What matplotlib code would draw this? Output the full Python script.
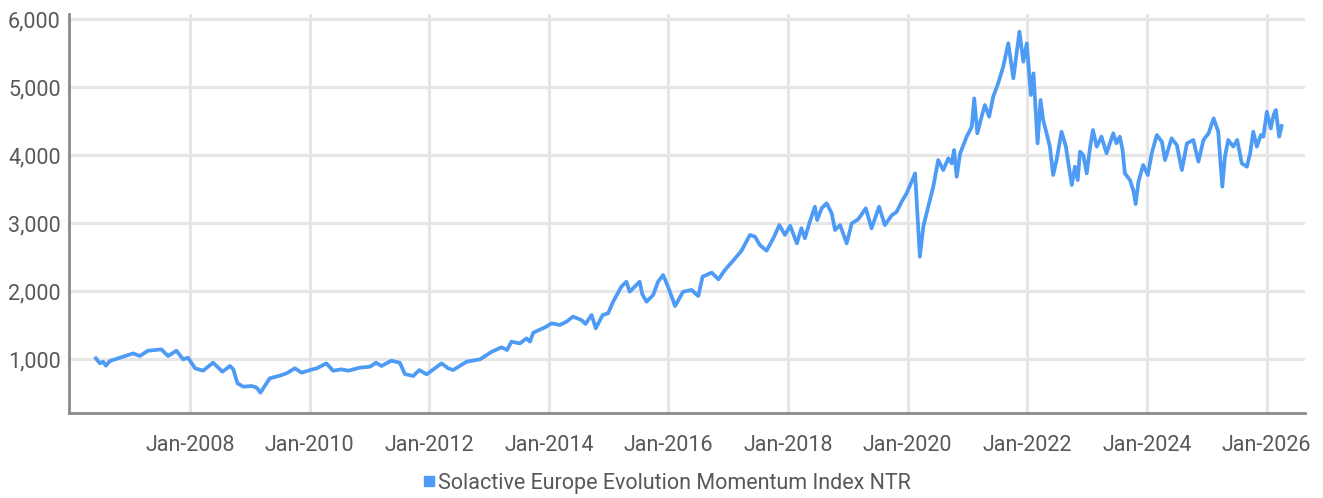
import matplotlib
matplotlib.use('Agg')
import matplotlib.pyplot as plt
import matplotlib.dates as mdates
from matplotlib.ticker import FuncFormatter
from matplotlib.lines import Line2D
import pandas as pd

# index level (approximate)
dates = [
    '2006-06-05', '2006-06-29', '2006-07-19', '2006-08-05', '2006-08-29', '2006-11-19',
    '2007-01-19', '2007-02-28', '2007-04-19', '2007-07-10', '2007-08-20', '2007-10-10',
    '2007-11-20', '2007-12-20', '2008-02-01', '2008-03-21', '2008-05-21', '2008-07-17',
    '2008-09-01', '2008-09-21', '2008-10-17', '2008-11-21', '2009-01-12', '2009-02-12',
    '2009-03-06', '2009-05-02', '2009-07-02', '2009-08-12', '2009-10-02', '2009-11-13',
    '2010-01-03', '2010-02-13', '2010-04-13', '2010-05-23', '2010-07-14', '2010-08-24',
    '2010-11-04', '2011-01-04', '2011-02-10', '2011-03-15', '2011-05-15', '2011-07-05',
    '2011-08-05', '2011-09-25', '2011-11-01', '2011-12-16', '2012-03-16', '2012-04-26',
    '2012-05-26', '2012-08-16', '2012-11-06', '2013-01-17', '2013-03-17', '2013-04-20',
    '2013-05-17', '2013-07-07', '2013-08-17', '2013-09-07', '2013-09-27', '2013-12-08',
    '2014-01-18', '2014-03-08', '2014-04-18', '2014-05-28', '2014-07-18', '2014-08-12',
    '2014-09-18', '2014-10-14', '2014-11-25', '2014-12-28', '2015-01-28', '2015-03-19',
    '2015-04-19', '2015-05-09', '2015-07-09', '2015-07-25', '2015-08-20', '2015-09-29',
    '2015-10-29', '2015-11-29', '2015-12-29', '2016-02-10', '2016-03-30', '2016-05-21',
    '2016-07-01', '2016-07-27', '2016-09-21', '2016-11-01', '2016-12-11', '2017-02-11',
    '2017-03-22', '2017-05-12', '2017-06-12', '2017-07-12', '2017-08-22', '2017-10-02',
    '2017-11-08', '2017-12-12', '2018-01-13', '2018-02-23', '2018-03-23', '2018-04-13',
    '2018-05-13', '2018-06-13', '2018-06-27', '2018-07-24', '2018-08-24', '2018-09-24',
    '2018-10-14', '2018-11-14', '2018-12-24', '2019-01-24', '2019-03-04', '2019-04-20',
    '2019-05-25', '2019-07-10', '2019-08-14', '2019-09-25', '2019-10-25', '2019-11-25',
    '2019-12-25', '2020-01-25', '2020-02-15', '2020-03-15', '2020-04-05', '2020-05-05',
    '2020-06-05', '2020-07-05', '2020-08-05', '2020-09-05', '2020-09-26', '2020-10-10',
    '2020-10-26', '2020-11-16', '2020-12-26', '2021-01-26', '2021-02-10', '2021-03-01',
    '2021-03-27', '2021-04-16', '2021-05-12', '2021-06-06', '2021-07-06', '2021-08-06',
    '2021-09-06', '2021-10-07', '2021-11-13', '2021-12-07', '2021-12-28', '2022-01-22',
    '2022-02-07', '2022-03-04', '2022-03-22', '2022-04-07', '2022-04-28', '2022-05-18',
    '2022-06-07', '2022-06-28', '2022-07-28', '2022-08-24', '2022-09-08', '2022-09-29',
    '2022-10-18', '2022-11-04', '2022-11-18', '2022-12-08', '2022-12-29', '2023-01-19',
    '2023-02-05', '2023-02-28', '2023-03-29', '2023-04-29', '2023-06-09', '2023-06-29',
    '2023-07-19', '2023-08-05', '2023-08-19', '2023-09-19', '2023-10-09', '2023-10-24',
    '2023-11-10', '2023-12-09', '2024-01-06', '2024-01-30', '2024-03-01', '2024-04-01',
    '2024-04-20', '2024-05-30', '2024-07-01', '2024-08-01', '2024-09-01', '2024-10-10',
    '2024-11-10', '2024-12-11', '2025-01-11', '2025-02-11', '2025-03-11', '2025-04-05',
    '2025-04-21', '2025-05-11', '2025-06-11', '2025-07-05', '2025-08-02', '2025-09-02',
    '2025-09-22', '2025-10-11', '2025-11-02', '2025-11-26', '2025-12-12', '2026-01-02',
    '2026-01-26', '2026-02-12', '2026-02-26', '2026-03-18', '2026-04-02',
]
values = [
    1010, 937, 960, 902, 970, 1034,
    1083, 1044, 1122, 1142, 1044, 1122,
    995, 1019, 863, 828, 946, 813,
    897, 850, 643, 593, 603, 578,
    505, 716, 755, 789, 863, 799,
    838, 863, 936, 828, 848, 828,
    873, 887, 946, 897, 975, 946,
    779, 750, 838, 775, 936, 863,
    838, 960, 995, 1107, 1172, 1132,
    1255, 1230, 1304, 1255, 1387, 1466,
    1525, 1500, 1549, 1623, 1574, 1515,
    1647, 1451, 1647, 1672, 1843, 2064,
    2137, 1990, 2137, 1953, 1843, 1940,
    2137, 2235, 2064, 1779, 1990, 2015,
    1927, 2211, 2270, 2172, 2310, 2481,
    2593, 2824, 2800, 2676, 2593, 2775,
    2970, 2824, 2960, 2701, 2925, 2775,
    3020, 3240, 3044, 3216, 3290, 3142,
    2897, 2970, 2701, 2995, 3054, 3216,
    2921, 3240, 2970, 3113, 3164, 3314,
    3436, 3608, 3730, 2505, 2946, 3240,
    3534, 3926, 3779, 3951, 3877, 4074,
    3681, 4024, 4270, 4417, 4833, 4319,
    4564, 4735, 4564, 4858, 5054, 5299,
    5643, 5128, 5814, 5372, 5643, 4882,
    5201, 4172, 4809, 4515, 4319, 4123,
    3706, 3926, 4343, 4123, 3877, 3559,
    3828, 3632, 4049, 4000, 3730, 4123,
    4368, 4123, 4270, 4025, 4319, 4172,
    4270, 4074, 3730, 3632, 3485, 3279,
    3608, 3853, 3706, 4025, 4294, 4196,
    3926, 4245, 4147, 3779, 4172, 4221,
    3902, 4221, 4319, 4540, 4343, 3534,
    3975, 4221, 4123, 4221, 3877, 3828,
    4025, 4343, 4123, 4294, 4270, 4637,
    4392, 4588, 4662, 4270, 4426,
]
series_name = 'Solactive Europe Evolution Momentum Index NTR'
year_ticks = ['2008', '2010', '2012', '2014', '2016', '2018', '2020', '2022', '2024', '2026']
y_ticks = [1000, 2000, 3000, 4000, 5000, 6000]

line_color = '#4d9bf5'
text_color = '#585858'
grid_color = '#e6e6e6'
axis_color = '#8a8a8a'

plt.rcParams['font.family'] = ['Roboto', 'DejaVu Sans']

fig = plt.figure(figsize=(13.23, 4.98), dpi=100)
ax = fig.add_axes([69 / 1323, 85 / 498, (1305 - 69) / 1323, (413 - 14) / 498])

x = pd.to_datetime(dates)
ax.plot(x, values, color=line_color, linewidth=2.7, solid_joinstyle='round')

ax.set_xlim(pd.Timestamp('2005-12-23'), pd.Timestamp('2026-08-23'))
ax.set_ylim(206, 6074)

ax.set_xticks(pd.to_datetime([y + '-01-01' for y in year_ticks]))
ax.xaxis.set_major_formatter(mdates.DateFormatter('%b-%Y'))
ax.set_yticks(y_ticks)
ax.yaxis.set_major_formatter(FuncFormatter(lambda v, p: f'{int(v):,}'))

ax.grid(True, color=grid_color, linewidth=2.2)
ax.set_axisbelow(True)
ax.tick_params(axis='both', length=0, labelsize=15.5, colors=text_color)
ax.tick_params(axis='x', pad=16)
ax.tick_params(axis='y', pad=6)

for side in ['top', 'right']:
    ax.spines[side].set_visible(False)
for side in ['left', 'bottom']:
    ax.spines[side].set_color(axis_color)
    ax.spines[side].set_linewidth(2)

handle = Line2D([], [], marker='s', linestyle='none', markersize=7.5,
                markerfacecolor=line_color, markeredgecolor=line_color)
leg = fig.legend([handle], [series_name], loc='center', bbox_to_anchor=(0.503, 0.03),
                 frameon=False, handletextpad=0.05, handlelength=0.8,
                 prop={'size': 15.5})
for t in leg.get_texts():
    t.set_color(text_color)

fig.savefig('out.png', dpi=100)
